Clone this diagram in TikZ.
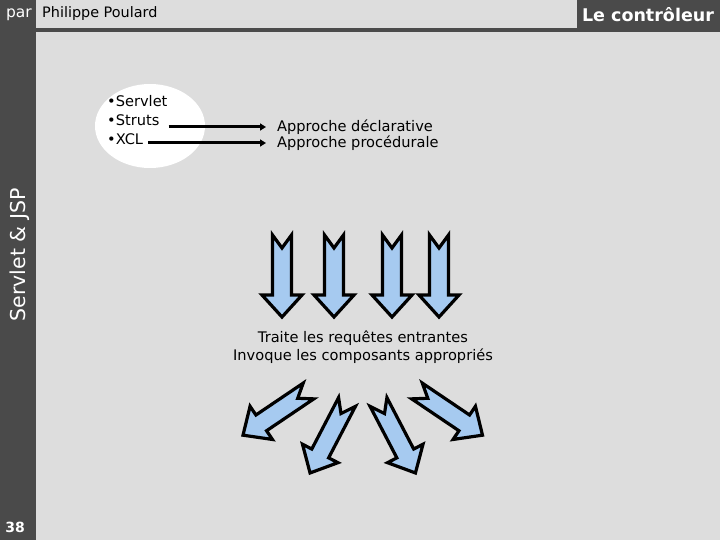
\documentclass[tikz,border=0pt]{standalone}
\usepackage{fontspec}
\setmainfont{DejaVu Sans}
\usetikzlibrary{arrows.meta}
\definecolor{bg}{HTML}{DDDDDD}
\definecolor{band}{HTML}{4A4A4A}
\definecolor{sky}{HTML}{A6CAF0}
\newcommand\blockarr[4]{%
  \draw[blk, shift={(#1,#2)}, rotate=#3]
    (0,9.5) -- (#4-22,9.5) -- (#4-22,20) -- (#4,0) -- (#4-22,-20)
    -- (#4-22,-9.5) -- (0,-9.5) -- (13,0) -- cycle;}
\begin{document}
\begin{tikzpicture}[x=1pt,y=-1pt,
  body/.style={inner sep=0pt, font=\fontsize{14.6}{16}\selectfont},
  conn/.style={line width=3pt, -{Triangle[length=6pt,width=7pt]}},
  blk/.style={fill=sky, draw=black, line width=3.2pt, line join=miter}]
\useasboundingbox (0,0) rectangle (720,540);
\fill[bg] (0,0) rectangle (720,540);
\fill[band] (0,0) rectangle (36,540);
\fill[band] (36,28) rectangle (720,32);
\fill[band] (577,0) rectangle (720,28);
% header
\node[white, inner sep=0pt, font=\fontsize{15.5}{15}\selectfont] (par) at (19,15) {par};
\node[anchor=west, inner sep=0pt, font=\fontsize{14.4}{14}\selectfont] (author) at (42,14) {Philippe Poulard};
\node[white, inner sep=0pt, font=\bfseries\fontsize{17.5}{17}\selectfont] (title) at (648,15) {Le contrôleur};
\node[white, inner sep=0pt, rotate=90, font=\fontsize{20.5}{20}\selectfont] (side) at (20,255) {Servlet \& JSP};
\node[white, inner sep=0pt, font=\bfseries\fontsize{14}{14}\selectfont] (num) at (15,527) {38};
% ellipse with list
\fill[white] (150,126) ellipse [x radius=55pt, y radius=42pt];
\node[body, anchor=west] (servlet) at (107,101) {•Servlet};
\node[body, anchor=west] (struts) at (107,120) {•Struts};
\node[body, anchor=west] (xcl) at (107,139) {•XCL};
\node[body, anchor=west] (decl) at (277,127) {Approche déclarative};
\node[body, anchor=west] (proc) at (277,143) {Approche procédurale};
\draw[conn] ([xshift=9pt]struts.east |- decl.west) -- ([xshift=-11pt]decl.west);
\draw[conn] ([xshift=5pt]xcl.east |- proc.west) -- ([xshift=-11pt]proc.west);
% down arrows
\blockarr{282}{235}{-90}{82}
\blockarr{334}{235}{-90}{82}
\blockarr{392}{235}{-90}{82}
\blockarr{439}{235}{-90}{82}
\node[body] (traite) at (363,338) {Traite les requêtes entrantes};
\node[body] (invoque) at (363,356) {Invoque les composants appropriés};
% diagonal arrows
\blockarr{308.5}{391}{-146}{79}
\blockarr{347}{402}{-117.5}{80}
\blockarr{378.5}{402}{-62.5}{80}
\blockarr{417}{391}{-34}{79}
\end{tikzpicture}
\end{document}
